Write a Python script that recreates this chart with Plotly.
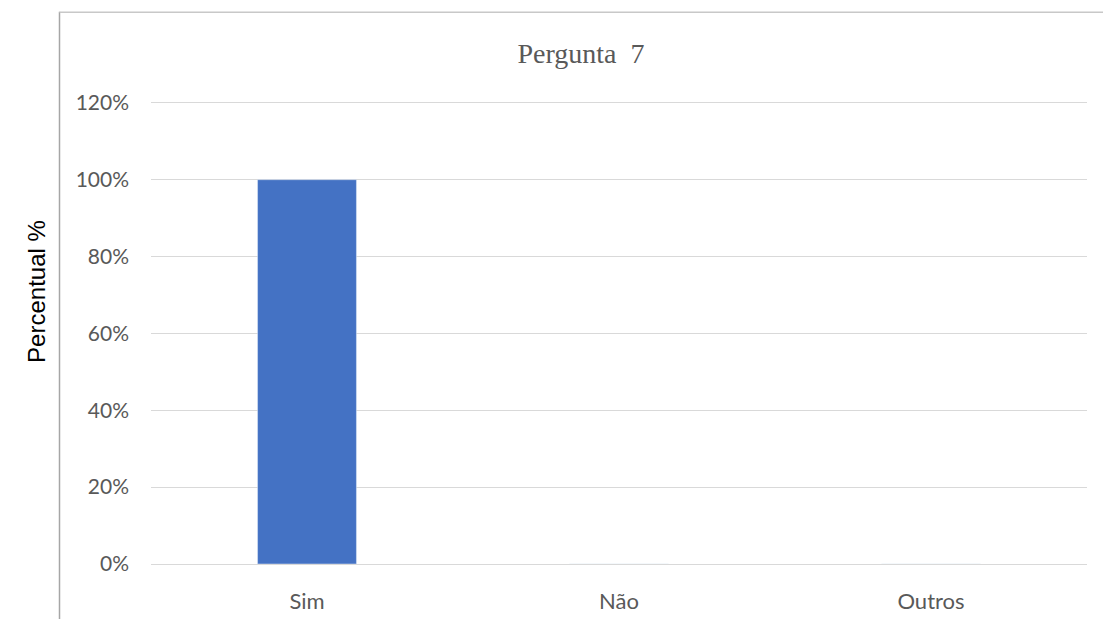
import plotly.graph_objects as go

categories = ["Sim", "Não", "Outros"]
values = [1.0, 0.0, 0.0]
tick_vals = [0, 0.2, 0.4, 0.6, 0.8, 1.0, 1.2]
tick_text = ["0%", "20%", "40%", "60%", "80%", "100%", "120%"]

W, H = 1103, 619
Y_TOP = 1.21
L, R, B = 151, 16, 55
grid_h = 461.0  # pixels from 0% to 120%
ph = grid_h * Y_TOP / 1.2
T = H - B - ph
pw = W - L - R

fig = go.Figure(go.Bar(x=categories, y=values, marker_color="#4472C4", width=0.317))

def px_x(x):
    return (x - L) / pw

def px_y(y):
    return (H - B - y) / ph

fig.update_layout(
    width=W, height=H,
    margin=dict(l=L, r=R, t=T, b=B, autoexpand=False),
    plot_bgcolor="white", paper_bgcolor="white",
    showlegend=False,
    title=dict(text="Pergunta  7", x=581 / W, xref="container", xanchor="center",
               y=1 - 53 / H, yref="container", yanchor="middle",
               font=dict(family="Liberation Serif", size=28, color="#595959")),
    font=dict(family="Lato", size=20, color="#595959"),
)
fig.update_yaxes(range=[0, Y_TOP], tickvals=tick_vals, ticktext=tick_text,
                 showgrid=True, gridcolor="#d9d9d9", gridwidth=1.3,
                 zeroline=True, zerolinecolor="#d9d9d9", zerolinewidth=1.3,
                 showline=False, ticks="", ticklabelstandoff=21, automargin=False,
                 tickfont=dict(family="Lato", size=21, color="#595959"))
fig.update_xaxes(showgrid=False, showline=False, ticks="", ticklabelstandoff=22,
                 automargin=False,
                 tickfont=dict(family="Lato", size=22, color="#595959"))

fig.add_annotation(text="Percentual %", xref="paper", yref="paper",
                   x=px_x(37), y=px_y(292), textangle=-90, showarrow=False,
                   xanchor="center", yanchor="middle",
                   font=dict(family="Liberation Sans", size=24, color="#000000"))

# chart-area border (left and top edges visible)
fig.add_shape(type="line", xref="paper", yref="paper",
              x0=px_x(59.5), x1=px_x(59.5), y0=px_y(12), y1=px_y(H + 5),
              line=dict(color="#a6a6a6", width=1.5))
fig.add_shape(type="line", xref="paper", yref="paper",
              x0=px_x(59.5), x1=px_x(W + 5), y0=px_y(12.5), y1=px_y(12.5),
              line=dict(color="#c8c8c8", width=1.5))

fig.write_html("out.html")
